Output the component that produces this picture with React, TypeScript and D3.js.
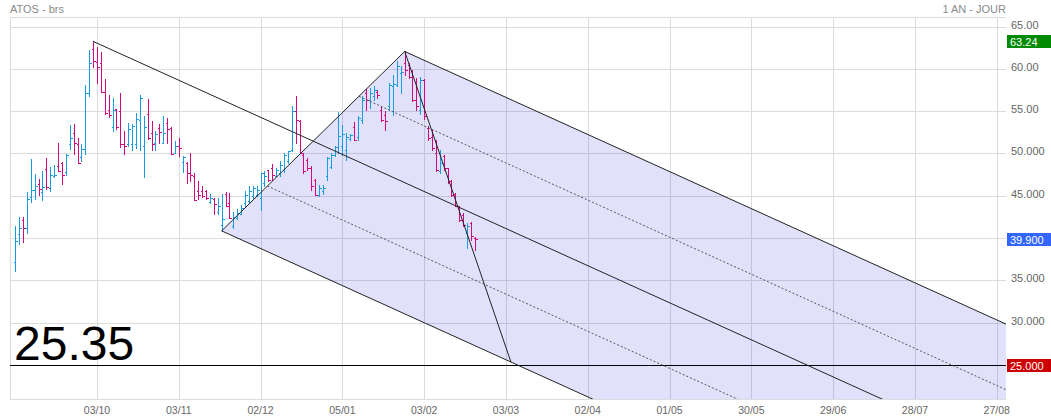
import React, { useEffect } from "react";
import * as d3 from "d3";

const W = 1051;
const H = 420;
const PL = 10;
const PR = 1006;
const PT = 17;
const PB = 399;

// OHLC daily bars (index 0 .. 118)
const opens = [
  37.13, 40.47, 42.16, 41.14, 44.91, 45.66, 46.33, 45.5, 48.21, 45.89,
  47.35, 48.53, 48.84, 47.82, 51.08, 52.46, 51.08, 49.59, 50.49, 57.17,
  62.36, 60.83, 60.71, 57.25, 55.09, 53.16, 55.21, 55.01, 51.08, 51.08,
  51.08, 51.08, 54.0, 50.9, 54.62, 52.46, 51.28, 53.05, 51.28, 53.56,
  53.05, 50.1, 50.9, 49.04, 48.92, 47.66, 47.35, 45.58, 45.58, 45.58,
  44.3, 44.6, 43.03, 41.5, 45.19, 44.2, 41.45, 42.4, 42.9, 44.13,
  44.33, 45.0, 45.1, 44.72, 46.5, 48.0, 48.27, 47.36, 47.68, 48.07,
  49.06, 50.43, 54.96, 53.78, 49.84, 49.25, 48.27, 46.89, 45.12, 45.51,
  47.28, 48.4, 49.84, 50.75, 50.83, 50.43, 51.7, 53.1, 52.0, 53.98,
  57.13, 56.34, 56.73, 57.3, 55.16, 54.57, 55.55, 57.91, 58.11, 59.49,
  60.67, 60.47, 59.02, 56.34, 55.16, 58.7, 53.0, 52.0, 50.04, 47.87,
  49.65, 48.27, 46.69, 45.24, 43.74, 42.75, 40.6, 41.77, 40.0,
];
const highs = [
  41.38, 42.51, 42.51, 45.46, 49.31, 47.54, 46.95, 47.94, 49.43, 48.45,
  48.61, 51.2, 49.0, 49.9, 53.32, 53.44, 51.79, 51.08, 58.04, 62.2,
  63.24, 62.59, 61.96, 58.82, 56.9, 56.58, 55.21, 57.09, 52.65, 53.63,
  53.44, 54.73, 56.86, 54.42, 56.39, 53.83, 52.65, 53.44, 54.42, 54.22,
  53.16, 51.47, 51.79, 49.71, 49.0, 50.0, 47.66, 46.76, 46.17, 45.66,
  45.19, 44.79, 44.68, 45.19, 45.46, 45.38, 43.03, 43.42, 43.89, 45.51,
  46.1, 46.1, 46.1, 47.68, 47.87, 48.07, 48.78, 48.27, 49.06, 50.04,
  50.31, 55.55, 56.81, 53.98, 50.04, 49.45, 48.46, 46.97, 46.3, 46.3,
  49.57, 50.04, 50.91, 54.84, 53.39, 52.4, 52.32, 53.66, 54.45, 56.73,
  57.6, 57.72, 57.91, 57.52, 55.55, 54.96, 58.31, 59.29, 60.87, 60.28,
  62.05, 60.67, 59.88, 58.9, 59.02, 58.78, 53.19, 52.8, 51.61, 50.43,
  49.84, 48.27, 46.89, 45.32, 43.82, 42.95, 41.77, 41.85, 40.12,
];
const lows = [
  36.15, 39.29, 39.57, 40.59, 44.28, 44.6, 45.11, 44.52, 45.85, 45.58,
  47.27, 47.94, 46.37, 47.47, 50.49, 49.98, 48.92, 49.12, 49.98, 56.78,
  60.24, 58.35, 57.25, 54.7, 54.34, 52.65, 52.85, 50.81, 49.98, 50.88,
  50.41, 50.69, 50.41, 47.23, 51.67, 50.41, 50.41, 51.28, 51.28, 51.28,
  49.98, 50.1, 49.71, 47.82, 46.56, 46.76, 44.52, 44.6, 44.87, 44.6,
  44.2, 42.83, 42.83, 40.85, 43.81, 42.32, 41.14, 42.24, 42.79, 43.74,
  44.13, 44.72, 44.92, 43.27, 46.1, 46.69, 46.89, 47.28, 47.36, 47.76,
  48.86, 50.24, 51.22, 50.04, 47.68, 48.07, 45.71, 45.12, 45.0, 45.24,
  46.89, 48.27, 49.65, 50.04, 49.84, 49.25, 51.61, 51.54, 51.61, 53.58,
  55.08, 55.35, 56.34, 56.54, 53.78, 52.72, 55.16, 54.57, 57.91, 57.13,
  59.29, 58.9, 56.14, 55.16, 54.69, 54.09, 51.61, 50.43, 47.87, 47.68,
  48.07, 46.5, 44.92, 43.74, 41.97, 41.38, 38.82, 39.8, 38.62,
];
const closes = [
  39.65, 41.14, 41.14, 44.6, 45.66, 46.17, 45.78, 46.09, 46.09, 47.43,
  47.5, 47.94, 47.47, 49.78, 51.83, 51.2, 48.92, 50.49, 57.17, 60.71,
  60.9, 60.24, 57.29, 54.81, 54.5, 55.09, 53.16, 51.08, 50.88, 52.85,
  53.24, 54.03, 56.58, 53.16, 51.87, 51.08, 52.26, 52.53, 52.46, 52.85,
  49.98, 50.9, 50.69, 49.63, 47.66, 47.43, 44.52, 45.07, 44.99, 44.79,
  44.7, 44.01, 43.81, 42.3, 43.81, 42.4, 42.44, 43.0, 43.6, 45.12,
  45.51, 45.9, 45.7, 47.68, 47.28, 46.89, 47.5, 48.07, 48.66, 49.84,
  50.24, 54.96, 53.98, 50.04, 47.87, 48.27, 46.1, 45.12, 45.9, 45.9,
  49.45, 49.84, 50.75, 52.1, 52.32, 52.0, 52.2, 51.61, 54.17, 56.34,
  56.34, 57.13, 57.52, 56.9, 53.98, 53.78, 58.11, 58.23, 60.28, 59.68,
  59.88, 59.02, 56.34, 55.55, 58.7, 54.37, 51.8, 50.63, 48.07, 48.86,
  48.27, 46.69, 45.12, 43.82, 42.17, 41.57, 41.38, 40.2, 39.9,
];

const xTickIdx = [21, 42, 63, 84, 105, 126, 147, 168, 189, 210, 231, 252];
const xTickLabels = ["03/10", "03/11", "02/12", "05/01", "03/02", "03/03", "02/04", "01/05", "30/05", "29/06", "28/07", "27/08"];
const yGridVals = [65, 60, 55, 50, 45, 40, 35, 30, 25];
const yLabelVals = [65, 60, 55, 50, 45, 35, 30];
const yLabelTexts = ["65.00", "60.00", "55.00", "50.000", "45.000", "35.000", "30.000"];

// Andrews pitchfork pivots: start high, low, high
const pivotIdx = [20, 53, 100];
const pivotVal = [63.24, 40.85, 62.05];
const targetVal = 25.35;
const targetText = "25.35";
const hLineVal = 25;

const markerVals = [63.24, 39.9, 25];
const markerTexts = ["63.24", "39.900", "25.000"];
const markerColors = ["#008a00", "#3366ff", "#cc0000"];

const BLUE = "#159de0";
const MAG = "#d2087c";

export default function App() {
  useEffect(() => {
    document.body.style.margin = "0";
  }, []);

  const x = d3.scaleLinear().domain([0, 252]).range([15.2, 15.2 + 252 * 3.895]);
  const y = d3.scaleLinear().domain([25, 65]).range([365, 26.5]);

  const [p1i, ai, bi] = pivotIdx;
  const [p1v, av, bv] = pivotVal;
  const mi = (ai + bi) / 2;
  const mv = (av + bv) / 2;
  const slope = (mv - p1v) / (mi - p1i);
  const far = 420;
  const at = (i0: number, v0: number, i: number) => v0 + slope * (i - i0);

  const line = d3
    .line<[number, number]>()
    .x((d) => x(d[0]))
    .y((d) => y(d[1]));

  const fillPoly: [number, number][] = [
    [ai, av],
    [bi, bv],
    [far, at(bi, bv, far)],
    [far, at(ai, av, far)],
  ];
  const q1: [number, number] = [ai + 0.25 * (bi - ai), av + 0.25 * (bv - av)];
  const q3: [number, number] = [ai + 0.75 * (bi - ai), av + 0.75 * (bv - av)];
  const eIdx = ai + (targetVal - av) / slope;

  const font = "'Liberation Sans', Arial, sans-serif";
  const crisp = (v: number) => Math.round(v) + 0.5;

  return (
    <svg width={W} height={H} style={{ display: "block", background: "#fff" }} fontFamily={font}>
      <defs>
        <clipPath id="plot">
          <rect x={PL} y={PT} width={PR - PL} height={PB - PT} />
        </clipPath>
      </defs>
      {/* grid */}
      <g stroke="#dcdcdc" strokeWidth={1} shapeRendering="crispEdges">
        <line x1={PL} x2={PR} y1={PT + 0.5} y2={PT + 0.5} />
        <line x1={PL} x2={PR} y1={PB + 0.5} y2={PB + 0.5} />
        <line x1={PL + 0.5} x2={PL + 0.5} y1={PT} y2={PB} />
        {yGridVals.map((v) => (
          <line key={"h" + v} x1={PL} x2={PR} y1={crisp(y(v))} y2={crisp(y(v))} />
        ))}
        {xTickIdx.map((i) => (
          <line key={"v" + i} x1={crisp(x(i))} x2={crisp(x(i))} y1={PT} y2={PB} />
        ))}
      </g>
      <g clipPath="url(#plot)">
        <path d={line(fillPoly) + "Z"} fill="rgba(20,20,235,0.13)" stroke="none" />
        <line x1={PL} x2={PR} y1={crisp(y(hLineVal))} y2={crisp(y(hLineVal))} stroke="#000" strokeWidth={1} shapeRendering="crispEdges" />
        {/* bars */}
        <g shapeRendering="crispEdges" strokeWidth={1}>
          {opens.map((o, i) => {
            const cx = crisp(x(i));
            const c = closes[i];
            const col = c >= o ? BLUE : MAG;
            const yo = crisp(y(o));
            const yc = crisp(y(c));
            return (
              <g key={i} stroke={col}>
                <line x1={cx} x2={cx} y1={Math.round(y(highs[i]))} y2={Math.round(y(lows[i])) + 1} />
                <line x1={cx - 2} x2={cx} y1={yo} y2={yo} />
                <line x1={cx} x2={cx + 2} y1={yc} y2={yc} />
              </g>
            );
          })}
        </g>
        {/* pitchfork */}
        <g fill="none" stroke="#222" strokeWidth={1}>
          <path d={line([[p1i, p1v], [far, at(p1i, p1v, far)]]) || ""} />
          <path d={line([[ai, av], [bi, bv]]) || ""} />
          <path d={line([[ai, av], [far, at(ai, av, far)]]) || ""} />
          <path d={line([[bi, bv], [far, at(bi, bv, far)]]) || ""} />
          <path d={line([[bi, bv], [eIdx, targetVal]]) || ""} />
        </g>
        <g fill="none" stroke="#555" strokeWidth={1} strokeDasharray="2,2">
          <path d={line([q1, [far, at(q1[0], q1[1], far)]]) || ""} />
          <path d={line([q3, [far, at(q3[0], q3[1], far)]]) || ""} />
        </g>
      </g>
      {/* texts */}
      <text x={10} y={13} fontSize={11} fill="#8a8a8a">ATOS - brs</text>
      <text x={1006} y={13} fontSize={11} fill="#8a8a8a" textAnchor="end">1 AN - JOUR</text>
      <text x={14} y={360} fontSize={48} fill="#000">{targetText}</text>
      {yLabelVals.map((v, k) => (
        <text key={"yl" + v} x={1011} y={y(v) + 2} fontSize={11} fill="#666">
          {yLabelTexts[k]}
        </text>
      ))}
      {xTickIdx.map((i, k) => (
        <text key={"xl" + i} x={x(i)} y={414} fontSize={10.5} fill="#666" textAnchor="middle">
          {xTickLabels[k]}
        </text>
      ))}
      {markerVals.map((v, k) => (
        <g key={"m" + k}>
          <rect x={1007} y={Math.round(y(v)) - 6} width={44} height={13} fill={markerColors[k]} />
          <text x={1010} y={Math.round(y(v)) + 4.5} fontSize={11} fill="#fff">
            {markerTexts[k]}
          </text>
        </g>
      ))}
    </svg>
  );
}
